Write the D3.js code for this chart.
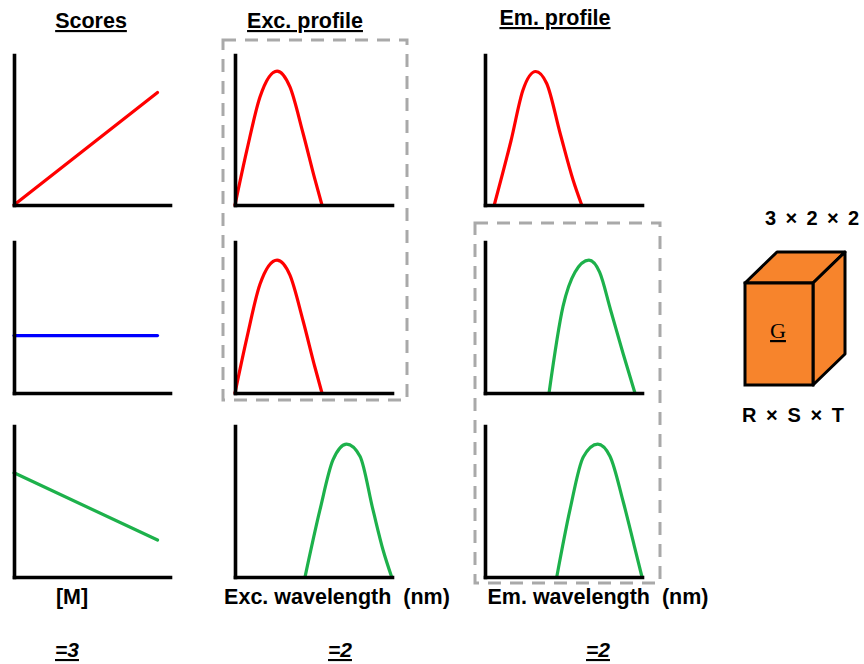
<!DOCTYPE html>
<html>
<head>
<meta charset="utf-8">
<script src="https://cdn.jsdelivr.net/npm/d3@7"></script>
<style>
  html, body { margin: 0; padding: 0; background: #fff; }
  svg { display: block; font-family: "Liberation Sans", Arial, sans-serif; }
</style>
</head>
<body>
<svg id="chart" width="864" height="664"></svg>
<script>
// Column headings, axis captions and component counts
const columnTitles = ["Scores", "Exc. profile", "Em. profile"];
const axisCaptions = ["[M]", "Exc. wavelength  (nm)", "Em. wavelength  (nm)"];
const rankLabels = ["=3", "=2", "=2"];
const coreDims = "3 × 2 × 2";
const coreModes = "R × S × T";
const coreName = "G";

// Scores: concentration [M] vs. score (arbitrary units, 0-100)
const scoreConc = [0, 92];
const score1 = [0, 75];
const score2 = [38, 38];
const score3 = [69, 24.5];

// Excitation profiles: wavelength position (0-100) vs. intensity (0-100)
const excWl1 = [0, 7.6, 15.9, 26.8, 35, 43.3, 51, 55.4];
const excInt1 = [0, 36.7, 72, 89.3, 78.7, 48, 16.7, 0];
const excWl2 = [0, 7.6, 15.9, 26.8, 35, 43.3, 51, 55.4];
const excInt2 = [0, 36.7, 72, 88, 78, 48, 16.7, 0];
const excWl3 = [44.6, 54.1, 62.4, 71.1, 79.6, 87.9, 94.3, 99.8];
const excInt3 = [0, 44.4, 77.5, 88, 80, 44.4, 17.9, 0];

// Emission profiles
const emWl1 = [5.9, 16.6, 24.2, 32.3, 39.3, 47.8, 56.1, 61.6];
const emInt1 = [0, 43, 76.7, 89, 81, 48, 16.7, 0];
const emWl2 = [40.8, 49.7, 57.3, 66.2, 73, 80, 88, 95.5];
const emInt2 = [0, 57.3, 80, 88, 80, 55, 26, 0];
const emWl3 = [45.7, 54.1, 62.6, 71.8, 79.6, 88, 95, 100];
const emInt3 = [0, 44.4, 79.5, 88, 80, 50, 21, 0];

const RED = "#ff0000", BLUE = "#0000ff", GREEN = "#1db14b";

const zip = (xs, ys) => xs.map((x, i) => ({ x, y: ys[i] }));

// Panel grid: three columns x three rows
const cols = [{ l: 14, r: 170 }, { l: 235, r: 392 }, { l: 485, r: 642 }];
const rows = [{ t: 55, b: 205 }, { t: 242, b: 393 }, { t: 426, b: 577 }];

const panels = [
  [ { data: zip(scoreConc, score1), color: RED,   smooth: false },
    { data: zip(excWl1, excInt1),   color: RED,   smooth: true },
    { data: zip(emWl1, emInt1),     color: RED,   smooth: true } ],
  [ { data: zip(scoreConc, score2), color: BLUE,  smooth: false },
    { data: zip(excWl2, excInt2),   color: RED,   smooth: true },
    { data: zip(emWl2, emInt2),     color: GREEN, smooth: true } ],
  [ { data: zip(scoreConc, score3), color: GREEN, smooth: false },
    { data: zip(excWl3, excInt3),   color: GREEN, smooth: true },
    { data: zip(emWl3, emInt3),     color: GREEN, smooth: true } ]
];

const svg = d3.select("#chart");

// Dashed groupings (drawn first so axes sit on top)
const boxes = [
  { x0: cols[1].l - 12, x1: cols[1].r + 15, y0: rows[0].t - 15, y1: rows[1].b + 7 },
  { x0: cols[2].l - 10, x1: cols[2].r + 18, y0: rows[1].t - 19, y1: rows[2].b + 6 }
];
svg.selectAll("rect.group").data(boxes).join("rect")
  .attr("class", "group")
  .attr("x", d => d.x0).attr("y", d => d.y0)
  .attr("width", d => d.x1 - d.x0).attr("height", d => d.y1 - d.y0)
  .attr("fill", "none").attr("stroke", "#a9a9a9")
  .attr("stroke-width", 3).attr("stroke-dasharray", "13,9");

panels.forEach((rowPanels, ri) => {
  rowPanels.forEach((p, ci) => {
    const c = cols[ci], r = rows[ri];
    const x = d3.scaleLinear().domain([0, 100]).range([c.l, c.r]);
    const y = d3.scaleLinear().domain([0, 100]).range([r.b, r.t]);
    const g = svg.append("g");

    const line = d3.line().x(d => x(d.x)).y(d => y(d.y))
      .curve(p.smooth ? d3.curveMonotoneX : d3.curveLinear);
    g.append("path").datum(p.data)
      .attr("d", line).attr("fill", "none")
      .attr("stroke", p.color).attr("stroke-width", 3.2)
      .attr("stroke-linecap", "round").attr("stroke-linejoin", "round");

    const ax = g.append("g").attr("transform", `translate(0,${r.b})`)
      .call(d3.axisBottom(x).tickValues([]).tickSizeOuter(0));
    const ay = g.append("g").attr("transform", `translate(${c.l},0)`)
      .call(d3.axisLeft(y).tickValues([]).tickSizeOuter(0));
    [ax, ay].forEach(a => a.select(".domain")
      .attr("stroke", "#000").attr("stroke-width", 3.6)
      .attr("stroke-linecap", "square"));
  });
});

// Column titles
const titleX = [91, 305, 555];
const titleY = [28, 28, 25];
svg.selectAll("text.title").data(columnTitles).join("text")
  .attr("class", "title")
  .attr("x", (d, i) => titleX[i]).attr("y", (d, i) => titleY[i])
  .attr("text-anchor", "middle")
  .attr("font-size", 21.5).attr("font-weight", "bold")
  .style("text-decoration", "underline")
  .text(d => d);

// Axis captions
const captionX = [72, 337, 598];
svg.selectAll("text.caption").data(axisCaptions).join("text")
  .attr("class", "caption")
  .attr("x", (d, i) => captionX[i]).attr("y", 604)
  .attr("text-anchor", "middle")
  .attr("font-size", 21.5).attr("font-weight", "bold")
  .attr("xml:space", "preserve")
  .style("white-space", "pre")
  .text(d => d);

// Component counts
const rankX = [67, 340, 598];
svg.selectAll("text.rank").data(rankLabels).join("text")
  .attr("class", "rank")
  .attr("x", (d, i) => rankX[i]).attr("y", 657)
  .attr("text-anchor", "middle")
  .attr("font-size", 21).attr("font-weight", "bold").attr("font-style", "italic")
  .style("text-decoration", "underline")
  .text(d => d);

// Core array cube
const cube = svg.append("g");
const front = { x0: 745, y0: 283, x1: 813, y1: 385 };
const dx = 32, dy = -31;
const ORANGE = "#f7842c";
cube.append("polygon")
  .attr("points", [[front.x0, front.y0], [front.x0 + dx, front.y0 + dy],
                   [front.x1 + dx, front.y0 + dy], [front.x1, front.y0]].join(" "))
  .attr("fill", ORANGE).attr("stroke", "#000").attr("stroke-width", 3)
  .attr("stroke-linejoin", "round");
cube.append("polygon")
  .attr("points", [[front.x1, front.y0], [front.x1 + dx, front.y0 + dy],
                   [front.x1 + dx, front.y1 + dy], [front.x1, front.y1]].join(" "))
  .attr("fill", ORANGE).attr("stroke", "#000").attr("stroke-width", 3)
  .attr("stroke-linejoin", "round");
cube.append("rect")
  .attr("x", front.x0).attr("y", front.y0)
  .attr("width", front.x1 - front.x0).attr("height", front.y1 - front.y0)
  .attr("fill", ORANGE).attr("stroke", "#000").attr("stroke-width", 3);
cube.append("text")
  .attr("x", 778).attr("y", 338).attr("text-anchor", "middle")
  .attr("font-family", "'Liberation Serif', 'DejaVu Serif', serif")
  .attr("font-size", 22)
  .style("text-decoration", "underline")
  .text(coreName);

svg.append("text")
  .attr("x", 812).attr("y", 225).attr("text-anchor", "middle")
  .attr("font-size", 20).attr("font-weight", "bold")
  .attr("textLength", 94).attr("lengthAdjust", "spacing")
  .text(coreDims);
svg.append("text")
  .attr("x", 793).attr("y", 422).attr("text-anchor", "middle")
  .attr("font-size", 20).attr("font-weight", "bold")
  .attr("textLength", 102).attr("lengthAdjust", "spacing")
  .text(coreModes);
</script>
</body>
</html>
